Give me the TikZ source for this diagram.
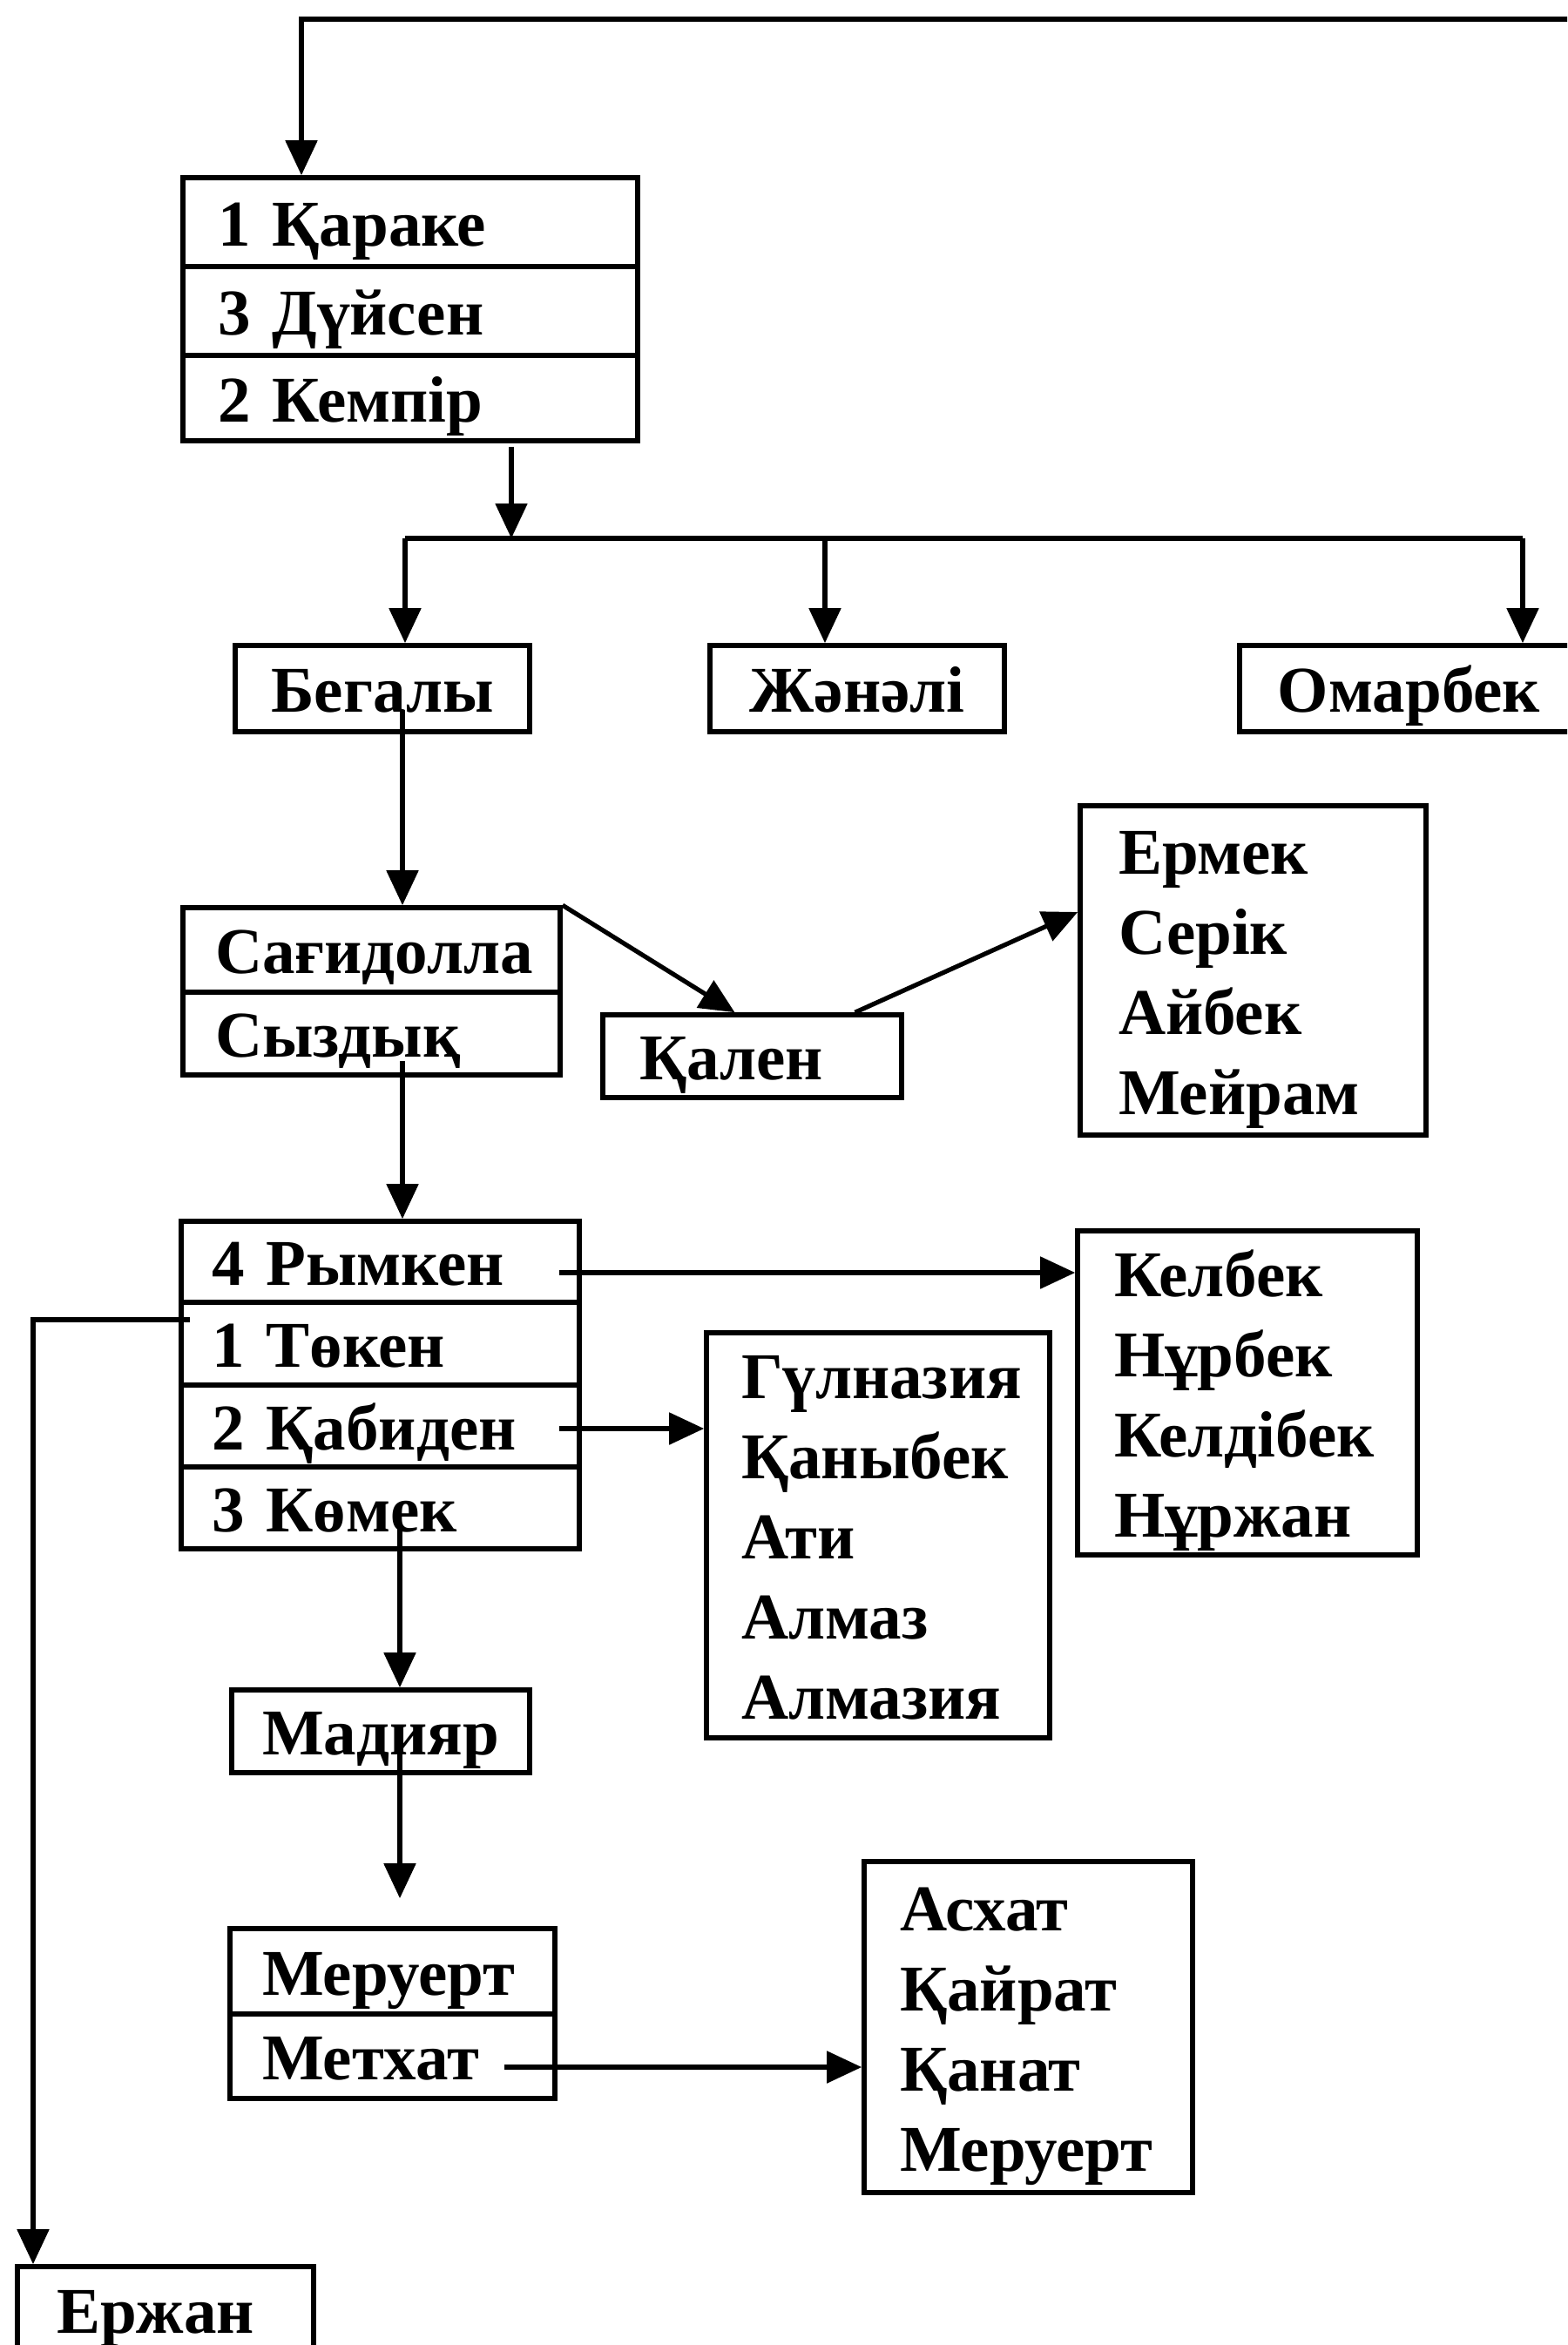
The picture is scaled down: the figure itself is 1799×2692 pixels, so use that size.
\documentclass[tikz,border=0pt]{standalone}
\usepackage{fontspec}
\setmainfont{Liberation Serif}
\usetikzlibrary{arrows.meta,calc}
\newcommand\dfnt{\fontsize{37.5pt}{46pt}\selectfont\bfseries}
\begin{document}
\begin{tikzpicture}[x=0.5pt,y=-0.5pt,
  bx/.style={draw, line width=2.8pt, inner ysep=0pt, font=\dfnt, text height=36pt, text depth=9pt},
  lbx/.style 2 args={bx, inner xsep=#1, text width=#2, align=left},
  cbx/.style={bx, inner xsep=0pt, align=center},
  four/.style={text depth=147pt},
  five/.style={text depth=193pt},
  conn/.style={line width=2.6pt},
  arr/.style={conn, -{Triangle[length=20pt,width=18pt]}}]
\useasboundingbox (0,0) rectangle (1799,2692);
\clip (0,0) rectangle (1799,2692);

% nodes
\node[lbx={20pt}{221pt}, minimum height=51pt] (k1a) at (471,255) {1 Қараке};
\node[lbx={20pt}{221pt}, minimum height=51pt] (k1b) at (471,357) {3 Дүйсен};
\node[lbx={20pt}{221pt}, minimum height=49pt] (k1c) at (471,457) {2 Кемпір};
\node[cbx, minimum width=169pt, minimum height=49.5pt] (beg) at (439,790.5) {Бегалы};
\node[cbx, minimum width=169pt, minimum height=49.5pt] (zhan) at (984,790.5) {Жәнәлі};
\node[cbx, minimum width=194.5pt, minimum height=49.5pt] (omar) at (1617.5,790.5) {Омарбек};
\node[lbx={18.5pt}{179.5pt}, minimum height=48.5pt] (sag) at (426.5,1090.5) {Сағидолла};
\node[lbx={18.5pt}{179.5pt}, minimum height=47.5pt] (syz) at (426.5,1186.5) {Сыздық};
\node[lbx={21pt}{129.5pt}, minimum height=47.5pt] (kal) at (863.5,1212.5) {Қален};
\node[lbx={22pt}{154.5pt}, four, minimum height=189pt] (erm) at (1438.5,1114) {Ермек\\Серік\\Айбек\\Мейрам};
\node[lbx={17.5pt}{193.5pt}, minimum height=46.5pt] (rym) at (436.5,1448.5) {4 Рымкен};
\node[lbx={17.5pt}{193.5pt}, minimum height=47.5pt] (tok) at (436.5,1542.5) {1 Төкен};
\node[lbx={17.5pt}{193.5pt}, minimum height=47pt] (qab) at (436.5,1637) {2 Қабиден};
\node[lbx={17.5pt}{193.5pt}, minimum height=47pt] (kom) at (436.5,1731) {3 Көмек};
\node[lbx={21pt}{153pt}, four, minimum height=186pt] (kel) at (1432,1599) {Келбек\\Нұрбек\\Келдібек\\Нұржан};
\node[lbx={20pt}{157pt}, five, minimum height=232.5pt] (gul) at (1008,1762.5) {Гүлназия\\Қаныбек\\Ати\\Алмаз\\Алмазия};
\node[cbx, minimum width=171pt, minimum height=47.5pt] (mad) at (437,1987.5) {Мадияр};
\node[lbx={18.5pt}{149.5pt}, minimum height=49pt] (mer) at (450.5,2263) {Меруерт};
\node[lbx={18.5pt}{149.5pt}, minimum height=48.5pt] (met) at (450.5,2360.5) {Метхат};
\node[lbx={20.5pt}{147.5pt}, four, minimum height=190pt] (asx) at (1180.5,2327) {Асхат\\Қайрат\\Қанат\\Меруерт};
\node[lbx={22.5pt}{125pt}, minimum height=49pt] (erz) at (190,2651) {Ержан};

% connectors
\coordinate (topR) at (1815,22);
\coordinate (tl) at (346,22);
\draw[arr] (topR) -- (tl) -- (tl |- k1a.north);

\coordinate (j0) at (587,618);
\draw[arr] ([yshift=-2pt]k1c.south -| j0) -- (j0);
\coordinate (j1) at (465,618);
\coordinate (j2) at (947,618);
\coordinate (j3) at (1748,618);
\draw[conn] (j1) -- (j3);
\draw[arr] (j1) -- (j1 |- beg.north);
\draw[arr] (j2) -- (j2 |- zhan.north);
\draw[arr] (j3) -- (j3 |- omar.north);

\coordinate (b1) at (462,815);
\draw[arr] (b1) -- (b1 |- sag.north);
\draw[arr] (sag.north east) -- ([xshift=-10pt]kal.north);
\draw[arr] ([xshift=59pt]kal.north) -- ([yshift=33.5pt]erm.west);

\coordinate (s1) at (462,1218);
\draw[arr] (s1) -- (s1 |- rym.north);
\coordinate (r1) at (642,1461);
\draw[arr] (r1) -- (r1 -| kel.west);
\coordinate (q1) at (642,1640);
\draw[arr] (q1) -- (q1 -| gul.west);
\coordinate (t1) at (218,1515);
\coordinate (t2) at (38,1515);
\draw[arr] (t1) -- (t2) -- (t2 |- erz.north);

\coordinate (c1) at (459,1755);
\draw[arr] (c1) -- (c1 |- mad.north);
\coordinate (m1) at (459,2014);
\draw[arr] (m1) -- ($(m1 |- mer.north)+(0,-32)$);
\coordinate (h1) at (579,2373);
\draw[arr] (h1) -- (h1 -| asx.west);
\end{tikzpicture}
\end{document}
